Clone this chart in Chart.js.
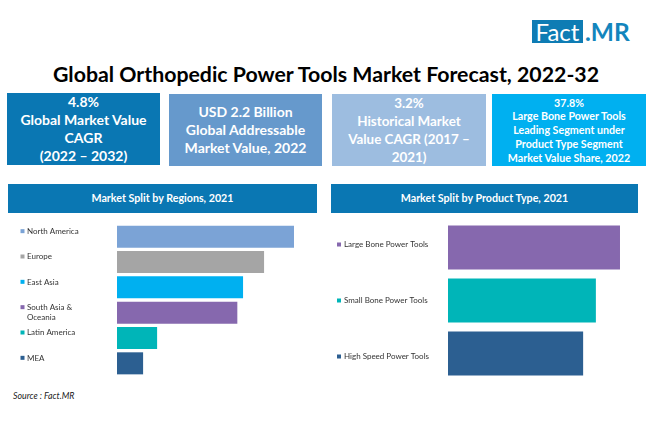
<!DOCTYPE html>
<html>
<head>
<meta charset="utf-8">
<script src="https://cdn.jsdelivr.net/npm/chart.js@4"></script>
<style>
  html, body { margin: 0; padding: 0; background: #fff; }
  #page { position: relative; width: 650px; height: 443px; overflow: hidden; font-family: Lato, sans-serif; }
  #page > * { position: absolute; }
  #logoBox { left: 532px; top: 20px; width: 51px; height: 23px; background: #0e7cb4; color: #fff; font-size: 24px; line-height: 23px; text-align: center; }
  #logoText { left: 585px; top: 20px; color: #1385bd; font-size: 24.5px; line-height: 23px; font-weight: bold; }
  #title { left: 0; width: 652px; top: 61px; text-align: center; font-size: 21.3px; line-height: 26px; font-weight: bold; color: #000; white-space: nowrap; }
  .kpi { color: #fff; text-align: center; font-weight: bold; font-size: 14px; line-height: 18px; height: 72px; display: flex; flex-direction: column; justify-content: center; white-space: nowrap; }
  .small { font-size: 10.7px; line-height: 13.8px; }
  .head { top: 184px; height: 29px; line-height: 28px; background: #0a77b3; color: #fff; text-align: center; font-weight: bold; font-size: 10.7px; }
  #source { left: 13px; top: 390px; font-size: 8.8px; line-height: 12px; font-style: italic; color: #222; }
  canvas { display: block; }
</style>
</head>
<body>
<div id="page">
  <div id="logoBox">Fact</div>
  <div id="logoText">.MR</div>
  <div id="title">Global Orthopedic Power Tools Market Forecast, 2022-32</div>

  <div class="kpi" style="left:7px;top:93px;width:153px;background:#0a77b3">4.8%<br>Global Market Value<br>CAGR<br>(2022 – 2032)</div>
  <div class="kpi" style="left:169px;top:94px;width:153px;background:#6699cc">USD 2.2 Billion<br>Global Addressable<br>Market Value, 2022</div>
  <div class="kpi" style="left:332px;top:94px;width:154px;background:#9dbde0;font-size:13.4px">3.2%<br>Historical Market<br>Value CAGR (2017 –<br>2021)</div>
  <div class="kpi small" style="left:492px;top:94px;width:154px;background:#00b0f0">37.8%<br>Large Bone Power Tools<br>Leading Segment under<br>Product Type Segment<br>Market Value Share, 2022</div>

  <div class="head" style="left:8px;width:309px">Market Split by Regions, 2021</div>
  <div class="head" style="left:331px;width:307px">Market Split by Product Type, 2021</div>

  <div style="left:0;top:224px;width:325px;height:152px"><canvas id="regionChart"></canvas></div>
  <div style="left:325px;top:221px;width:325px;height:159px"><canvas id="productChart"></canvas></div>

  <div id="source">Source : Fact.MR</div>
</div>

<script>
// empty lines push a label off the bar centre, like the original
const regionLabels = [['North America', ''], ['Europe', ''], ['East Asia', ''], ['South Asia &', 'Oceania'], ['Latin America', ''], ['MEA', '']];
const regionValues = [27.8, 23.1, 19.8, 18.9, 6.3, 4.1];
const regionColors = ['#7ba3d6', '#a5a5a5', '#00b0f0', '#8668ae', '#00b5b8', '#2c5f91'];

const productLabels = [['Large Bone Power Tools', ''], 'Small Bone Power Tools', ['', 'High Speed Power Tools']];
const productValues = [37.8, 32.5, 29.7];
const productColors = ['#8668ae', '#00b5b8', '#2c5f91'];

// small colored squares in front of the axis labels
function labelMarkers(x, lifts) {
  return {
    id: 'labelMarkers',
    afterDraw(chart) {
      const scale = chart.scales.y;
      const ctx = chart.ctx;
      const colors = chart.data.datasets[0].backgroundColor;
      colors.forEach((color, i) => {
        ctx.fillStyle = color;
        ctx.fillRect(x, scale.getPixelForTick(i) - lifts[i] - 2, 4, 4);
      });
    }
  };
}

function drawBars(id, labels, values, colors, opts) {
  new Chart(document.getElementById(id), {
    type: 'bar',
    data: {
      labels: labels,
      datasets: [{ data: values, backgroundColor: colors, barPercentage: opts.barPercentage, categoryPercentage: 1 }]
    },
    options: {
      indexAxis: 'y',
      responsive: true,
      maintainAspectRatio: false,
      animation: false,
      layout: { padding: { left: opts.left, right: opts.right, top: 0, bottom: 0 } },
      scales: {
        x: { display: false, min: 0, max: opts.max },
        y: {
          grid: { display: false },
          border: { display: false },
          ticks: { crossAlign: 'far', color: '#333', font: { family: 'Lato', size: 8, lineHeight: opts.lineHeight }, padding: 0, autoSkip: false },
          afterFit(scale) {
            scale.width = opts.axisWidth;
            scale.paddingTop = 0;
            scale.paddingBottom = 0;
          }
        }
      },
      plugins: { legend: { display: false }, tooltip: { enabled: false } }
    },
    plugins: [labelMarkers(opts.markerX, opts.lifts)]
  });
}

drawBars('regionChart', regionLabels, regionValues, regionColors, {
  left: 27, axisWidth: 90, right: 17, max: 30, barPercentage: 0.87, markerX: 20.5, lifts: [5.5, 5.5, 5.5, 5.5, 5.5, 5.5], lineHeight: 1.3
});
drawBars('productChart', productLabels, productValues, productColors, {
  left: 19, axisWidth: 104, right: 20, max: 40, barPercentage: 0.83, markerX: 12, lifts: [3, 0, -3], lineHeight: 0.75
});
</script>
</body>
</html>
